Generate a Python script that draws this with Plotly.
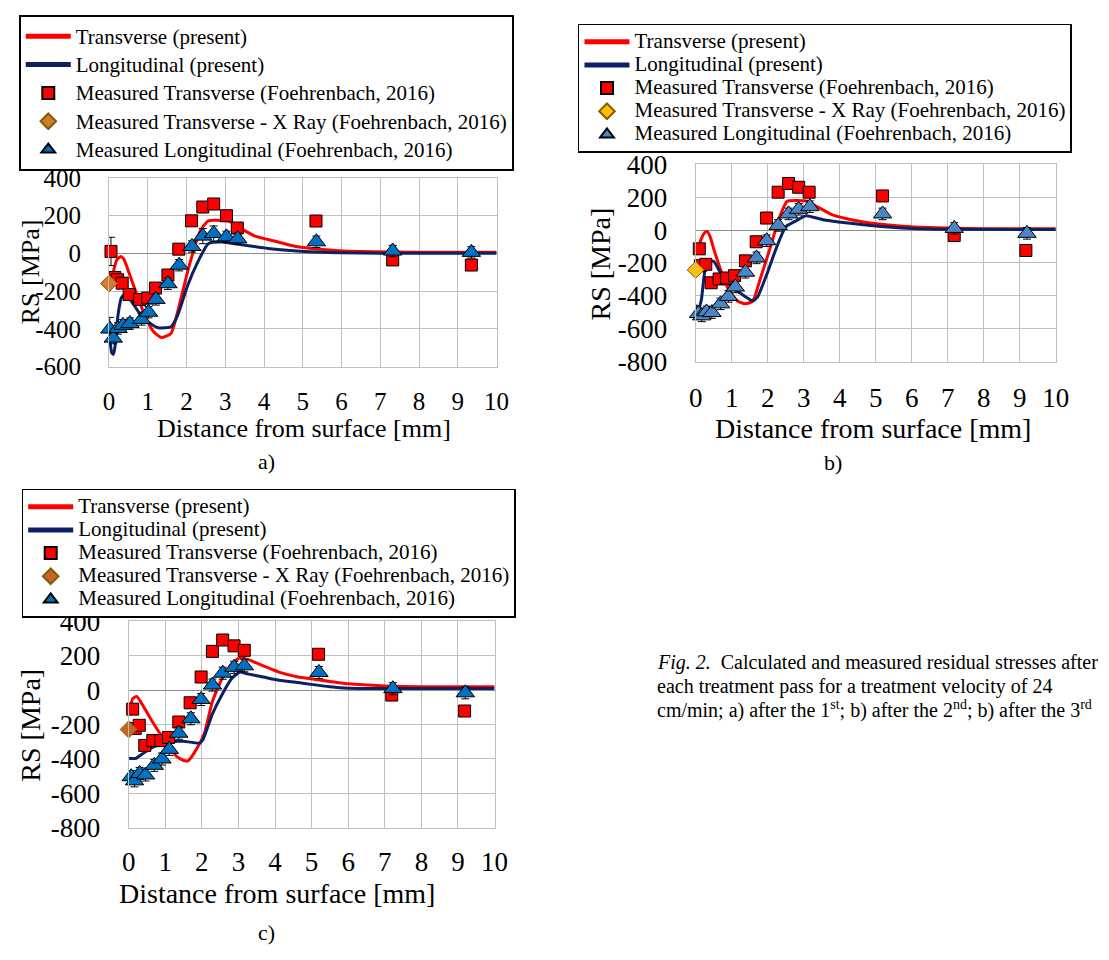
import plotly.graph_objects as go

W, H = 1109, 960
FONT = "Liberation Serif, Times New Roman, serif"

NAMES = ["Transverse (present)", "Longitudinal (present)",
         "Measured Transverse (Foehrenbach, 2016)",
         "Measured Transverse - X Ray (Foehrenbach, 2016)",
         "Measured Longitudinal (Foehrenbach, 2016)"]

# tick values and labels (hyphen minus, as in the source figure)
x_ticks = [0, 1, 2, 3, 4, 5, 6, 7, 8, 9, 10]
x_labels = ["0", "1", "2", "3", "4", "5", "6", "7", "8", "9", "10"]
a_y_ticks = [-600, -400, -200, 0, 200, 400]
a_y_labels = ["-600", "-400", "-200", "0", "200", "400"]
bc_y_ticks = [-800, -600, -400, -200, 0, 200, 400]
bc_y_labels = ["-800", "-600", "-400", "-200", "0", "200", "400"]

# ---------------- panel a ----------------
a_T_x = [0.05, 0.12, 0.2, 0.3, 0.38, 0.52, 0.73, 0.94, 1.15, 1.35, 1.6, 1.81, 2.06, 2.35, 2.56, 3.1, 3.43, 3.77, 4.26, 4.76, 5.5, 6.5, 8, 10]
a_T_y = [-150, -90, -35, -17, -30, -106, -226, -338, -415, -446, -424, -278, -72, 117, 172, 170, 128, 91, 65, 39, 20, 9, 5, 5]
a_L_x = [0.03, 0.07, 0.11, 0.15, 0.23, 0.32, 0.4, 0.57, 0.77, 1.02, 1.27, 1.6, 1.77, 2.02, 2.27, 2.56, 2.93, 3.43, 4.1, 4.76, 6, 8, 10]
a_L_y = [-470, -527, -535, -500, -329, -235, -218, -252, -312, -364, -394, -389, -329, -175, -55, 51, 60, 45, 26, 14, 3, 0, 0]
a_sq_x = [0.05, 0.15, 0.22, 0.34, 0.52, 0.79, 1.0, 1.2, 1.52, 1.80, 2.13, 2.42, 2.70, 3.03, 3.31, 5.34, 7.32, 9.35]
a_sq_y = [10, -128, -140, -158, -218, -244, -237, -184, -115, 22, 172, 245, 261, 199, 134, 171, -35, -62]
a_sq_e = [75, 20, 20, 20, 20, 20, 20, 20, 20, 20, 20, 20, 20, 20, 20, 20, 20, 20]
a_xr_x = [0.0]
a_xr_y = [-160]
a_tr_x = [0.02, 0.11, 0.23, 0.36, 0.54, 0.84, 1.02, 1.21, 1.52, 1.81, 2.14, 2.42, 2.70, 3.03, 3.32, 5.35, 7.32, 9.35]
a_tr_y = [-401, -449, -398, -381, -372, -350, -312, -244, -161, -63, 36, 91, 105, 87, 77, 61, 12, 5]
a_tr_e = [62, 30, 30, 30, 30, 30, 30, 30, 30, 30, 30, 40, 40, 30, 30, 30, 30, 30]

# ---------------- panel b ----------------
b_T_x = [0.04, 0.15, 0.25, 0.32, 0.4, 0.5, 0.71, 0.93, 1.15, 1.37, 1.58, 1.8, 2.06, 2.32, 2.54, 3.1, 3.37, 3.8, 4.32, 4.84, 6, 7, 8, 10]
b_T_y = [-134, -55, -15, -10, -40, -114, -252, -370, -429, -448, -433, -291, -114, 73, 175, 175, 142, 92, 63, 43, 20, 12, 8, 8]
b_L_x = [0.0, 0.1, 0.16, 0.28, 0.37, 0.5, 0.67, 0.93, 1.28, 1.58, 1.71, 1.97, 2.23, 2.5, 2.76, 3.06, 3.54, 4.23, 4.84, 6, 7, 10]
b_L_y = [-458, -468, -420, -212, -189, -189, -252, -330, -389, -429, -409, -271, -114, 20, 53, 87, 63, 43, 28, 10, 5, 3]
b_sq_x = [0.10, 0.13, 0.28, 0.43, 0.65, 0.86, 1.08, 1.38, 1.68, 1.97, 2.29, 2.58, 2.86, 3.15, 5.19, 7.18, 9.17]
b_sq_y = [-114, -216, -208, -320, -297, -291, -277, -187, -71, 73, 230, 283, 260, 230, 207, -33, -124]
b_sq_e = [20] * 17
b_xr_x = [0.0]
b_xr_y = [-242]
b_tr_x = [0.08, 0.17, 0.30, 0.45, 0.69, 0.91, 1.10, 1.38, 1.69, 1.97, 2.29, 2.58, 2.86, 3.17, 5.19, 7.18, 9.2]
b_tr_y = [-507, -521, -497, -501, -448, -403, -346, -256, -169, -65, 28, 98, 126, 142, 98, 10, -20]
b_tr_e = [35] * 17

# ---------------- panel c ----------------
c_T_x = [0.03, 0.11, 0.22, 0.37, 0.63, 0.85, 1.07, 1.29, 1.5, 1.63, 1.85, 2.07, 2.29, 2.55, 2.81, 3.03, 3.25, 3.68, 4.11, 4.63, 4.98, 6, 7, 8, 10]
c_T_y = [-120, -49, -36, -82, -176, -250, -316, -381, -409, -409, -344, -250, -64, 67, 151, 189, 179, 142, 105, 77, 67, 37, 25, 20, 20]
c_L_x = [0.0, 0.2, 0.42, 0.72, 1.07, 1.33, 1.5, 1.94, 2.03, 2.29, 2.55, 2.81, 3.03, 3.25, 3.68, 4.11, 4.63, 4.98, 5.5, 6, 8, 10]
c_L_y = [-396, -396, -363, -325, -307, -297, -297, -307, -288, -138, -26, 67, 105, 95, 77, 58, 45, 34, 20, 12, 10, 10]
c_sq_x = [0.11, 0.18, 0.29, 0.44, 0.66, 0.88, 1.09, 1.37, 1.68, 1.98, 2.29, 2.57, 2.88, 3.16, 5.19, 7.19, 9.18]
c_sq_y = [-110, -222, -204, -321, -293, -293, -275, -185, -73, 77, 226, 292, 258, 232, 209, -28, -121]
c_sq_e = [20] * 17
c_xr_x = [0.0]
c_xr_y = [-228]
c_tr_x = [0.07, 0.16, 0.30, 0.46, 0.70, 0.91, 1.11, 1.37, 1.70, 1.98, 2.29, 2.57, 2.88, 3.16, 5.2, 7.22, 9.2]
c_tr_y = [-503, -527, -484, -493, -437, -400, -344, -250, -166, -54, 30, 99, 133, 142, 103, 9, -15]
c_tr_e = [35] * 17

RED = "#FF0000"
NAVY = "#0B2164"

fig = go.Figure()


def lname(i, size):
    return '<span style="font-size:%dpx">%s</span>' % (size, NAMES[i])


def add_panel(sfx, legend, T_x, T_y, L_x, L_y, sq_x, sq_y, sq_e, xr_x, xr_y,
              tr_x, tr_y, tr_e, xr_color, tr_color, lfs):
    xa = "x" + sfx
    ya = "y" + sfx
    fig.add_trace(go.Scatter(x=T_x, y=T_y, mode="lines", name=lname(0, lfs),
                             line=dict(color=RED, width=3, shape="spline", smoothing=0.5),
                             xaxis=xa, yaxis=ya, legend=legend))
    fig.add_trace(go.Scatter(x=L_x, y=L_y, mode="lines", name=lname(1, lfs),
                             line=dict(color=NAVY, width=3, shape="spline", smoothing=0.5),
                             xaxis=xa, yaxis=ya, legend=legend))
    fig.add_trace(go.Scatter(x=sq_x, y=sq_y, mode="markers", name=lname(2, lfs),
                             marker=dict(symbol="square", size=12, color=RED,
                                         line=dict(color="black", width=1)),
                             error_y=dict(type="data", array=sq_e, color="black",
                                          thickness=1, width=4),
                             cliponaxis=False, xaxis=xa, yaxis=ya, legend=legend))
    fig.add_trace(go.Scatter(x=xr_x, y=xr_y, mode="markers", name=lname(3, lfs),
                             marker=dict(symbol="diamond", size=13, color=xr_color,
                                         line=dict(color="#7F6000", width=1)),
                             cliponaxis=False, xaxis=xa, yaxis=ya, legend=legend))
    fig.add_trace(go.Scatter(x=tr_x, y=tr_y, mode="markers", name=lname(4, lfs),
                             marker=dict(symbol="triangle-up", size=16, color=tr_color,
                                         line=dict(color="black", width=1)),
                             error_y=dict(type="data", array=tr_e, color="black",
                                          thickness=1, width=4),
                             cliponaxis=False, xaxis=xa, yaxis=ya, legend=legend))


add_panel("", "legend", a_T_x, a_T_y, a_L_x, a_L_y, a_sq_x, a_sq_y, a_sq_e,
          a_xr_x, a_xr_y, a_tr_x, a_tr_y, a_tr_e, "#D9782D", "#0070C0", 21)
add_panel("2", "legend2", b_T_x, b_T_y, b_L_x, b_L_y, b_sq_x, b_sq_y, b_sq_e,
          b_xr_x, b_xr_y, b_tr_x, b_tr_y, b_tr_e, "#FFC000", "#4A86C5", 21)
add_panel("3", "legend3", c_T_x, c_T_y, c_L_x, c_L_y, c_sq_x, c_sq_y, c_sq_e,
          c_xr_x, c_xr_y, c_tr_x, c_tr_y, c_tr_e, "#C8642A", "#0070C0", 21)


def xax(left, right, anchor, fs, standoff=12):
    return dict(domain=[left / W, right / W], range=[0, 10],
                tickvals=x_ticks, ticktext=x_labels,
                anchor=anchor, showgrid=True, gridcolor="#BFBFBF", gridwidth=1,
                zeroline=False, showline=True, linecolor="#BFBFBF", mirror=True,
                ticks="", ticklabelstandoff=standoff,
                tickfont=dict(family=FONT, size=fs, color="black"), fixedrange=True)


def yax(top, bottom, anchor, ticks, labels, fs):
    return dict(domain=[1 - bottom / H, 1 - top / H], range=[ticks[0], ticks[-1]],
                tickvals=ticks, ticktext=labels, anchor=anchor,
                showgrid=True, gridcolor="#BFBFBF", gridwidth=1,
                zeroline=True, zerolinecolor="#8C8C8C", zerolinewidth=1,
                showline=True, linecolor="#BFBFBF", mirror=True,
                ticks="", ticklabelstandoff=22,
                tickfont=dict(family=FONT, size=fs, color="black"), fixedrange=True)


def leg(left, top, fs, bw):
    # fs controls the row pitch (1.3*fs + 3 px); text itself is sized in the names
    return dict(x=left / W, y=1 - top / H, xanchor="left", yanchor="top",
                bgcolor="white", bordercolor="black", borderwidth=bw,
                font=dict(family=FONT, size=fs, color="black"),
                itemwidth=45, itemsizing="constant",
                tracegroupgap=0, traceorder="normal")


fig.update_layout(
    width=W, height=H, autosize=False,
    margin=dict(l=0, r=0, t=0, b=0),
    paper_bgcolor="white", plot_bgcolor="white",
    font=dict(family=FONT, color="black"),
    xaxis=xax(104, 499, "y", 25),
    yaxis=yax(168, 363, "x", a_y_ticks, a_y_labels, 25),
    xaxis2=xax(702, 1069, "y2", 27),
    yaxis2=yax(154, 358, "x2", bc_y_ticks, bc_y_labels, 27),
    xaxis3=xax(124, 497, "y3", 27, standoff=10),
    yaxis3=yax(626, 839, "x3", bc_y_ticks, bc_y_labels, 27),
    legend=leg(12, 0, 19.5, 2),
    legend2=leg(582, 9, 15.5, 1.5),
    legend3=leg(15, 489, 15.5, 1.5),
)


def ann(text, xp, yp, size, angle=0, anchor="center"):
    fig.add_annotation(text=text, x=xp / W, y=1 - yp / H, xref="paper", yref="paper",
                       xanchor=anchor, yanchor="middle", showarrow=False,
                       textangle=angle, font=dict(family=FONT, size=size, color="black"))


# axis titles & panel labels
ann("Distance from surface [mm]", 303, 427, 26)
ann("RS [MPa]", 24, 265, 26, angle=-90)
ann("a)", 265, 461, 22)
ann("Distance from surface [mm]", 883, 427, 28)
ann("RS [MPa]", 605, 257, 28, angle=-90)
ann("b)", 842, 462, 22)
ann("Distance from surface [mm]", 275, 907, 28)
ann("RS [MPa]", 24, 733, 28, angle=-90)
ann("c)", 265, 947, 22)

# figure caption
ann("<i>Fig. 2.</i>  Calculated and measured residual stresses after", 661, 668, 20, anchor="left")
ann("each treatment pass for a treatment velocity of 24", 661, 693, 20, anchor="left")
ann("cm/min; a) after the 1<sup>st</sup>; b) after the 2<sup>nd</sup>; b) after the 3<sup>rd</sup>",
    661, 717, 20, anchor="left")

fig.write_html("out.html", config={"displayModeBar": False},
               post_script="document.body.style.margin='0';")
